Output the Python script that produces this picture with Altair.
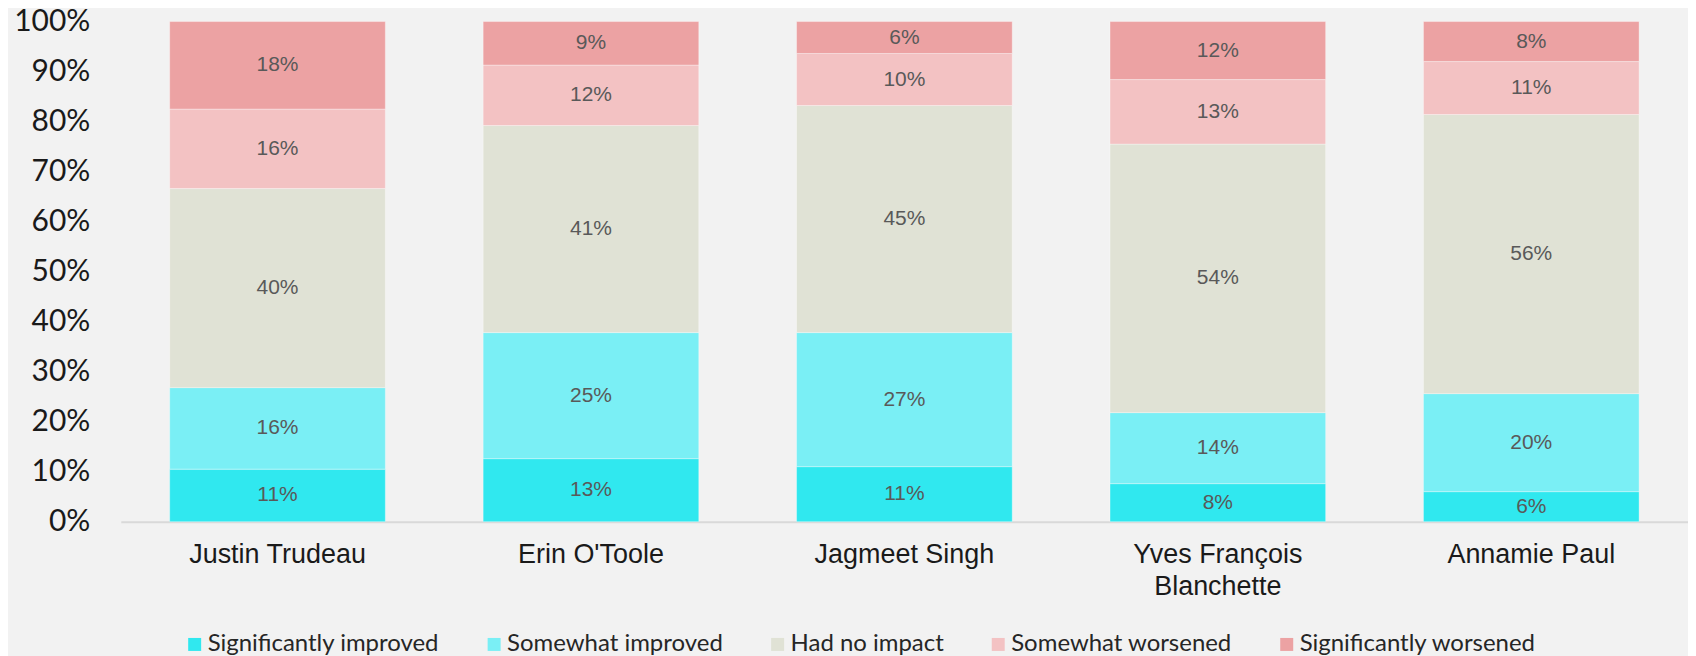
import altair as alt
import pandas as pd

candidates = ["Justin Trudeau", "Erin O'Toole", "Jagmeet Singh", "Yves François Blanchette", "Annamie Paul"]
categories = ["Significantly improved", "Somewhat improved", "Had no impact", "Somewhat worsened", "Significantly worsened"]
colors = ["#30E8EF", "#7AEFF5", "#E0E2D5", "#F3C2C3", "#ECA2A3"]

sig_improved = [10.5, 12.6, 11.0, 7.6, 6.0]
some_improved = [16.3, 25.2, 26.8, 14.2, 19.6]
no_impact = [39.8, 41.4, 45.4, 53.7, 55.8]
some_worsened = [15.9, 12.1, 10.4, 12.9, 10.6]
sig_worsened = [17.5, 8.7, 6.4, 11.6, 8.0]

series = [sig_improved, some_improved, no_impact, some_worsened, sig_worsened]
rows = []
for ci, (cat, vals) in enumerate(zip(categories, series)):
    for cand, v in zip(candidates, vals):
        rows.append({"candidate": cand, "category": cat, "value": v, "order": ci,
                     "label": f"{int(v + 0.5)}%"})
df = pd.DataFrame(rows)

xaxis = alt.Axis(title=None, domainColor="#D9D9D9", domainWidth=2, ticks=False,
                 labelFont="Liberation Sans", labelFontSize=27, labelColor="#1a1a1a",
                 labelPadding=20, labelAngle=0, labelLineHeight=32, labelLimit=400,
                 labelExpr="datum.label == 'Yves François Blanchette' ? ['Yves François', 'Blanchette'] : datum.label")
yaxis = alt.Axis(title=None, values=list(range(0, 101, 10)), labelExpr="datum.value + '%'",
                 labelFont="Lato", labelFontSize=30, labelColor="#1a1a1a", labelPadding=31,
                 ticks=False, domain=False, grid=False, labelFlush=False, labelOverlap=False)
xscale = alt.Scale(paddingInner=0.312, paddingOuter=0.156)
yscale = alt.Scale(domain=[0, 100], nice=False)

base = alt.Chart(df).transform_stack(
    stack="value", groupby=["candidate"], as_=["y0", "y1"],
    sort=[alt.SortField("order", order="ascending")]
).transform_calculate(mid="(datum.y0 + datum.y1) / 2")

bars = base.mark_bar(stroke="white", strokeWidth=1, strokeOpacity=0.35).encode(
    x=alt.X("candidate:N", sort=candidates, scale=xscale, axis=xaxis),
    y=alt.Y("y0:Q", scale=yscale, axis=yaxis),
    y2="y1:Q",
    color=alt.Color("category:N", sort=categories,
                    scale=alt.Scale(domain=categories, range=colors),
                    legend=alt.Legend(title=None, orient="none", legendX=62, legendY=612,
                                      direction="horizontal", columns=5, symbolType="square",
                                      symbolSize=169, symbolStrokeWidth=0, labelFont="Lato",
                                      labelFontSize=24, labelColor="#262626", labelOffset=1,
                                      columnPadding=42, padding=0, labelLimit=400)),
)

text = base.mark_text(font="Liberation Sans", fontSize=21, color="#595959", baseline="middle").encode(
    x=alt.X("candidate:N", sort=candidates, scale=xscale, axis=xaxis),
    y=alt.Y("mid:Q", scale=yscale, axis=yaxis),
    text="label:N",
)

chart = alt.layer(bars, text).properties(
    width=1570, height=501,
    autosize=alt.AutoSizeParams(type="none"),
    padding={"left": 113, "top": 13, "right": 0, "bottom": 134},
    background="#F2F2F2",
).configure_view(stroke=None)

chart.save("out.html", embed_options={"renderer": "svg", "actions": False})
